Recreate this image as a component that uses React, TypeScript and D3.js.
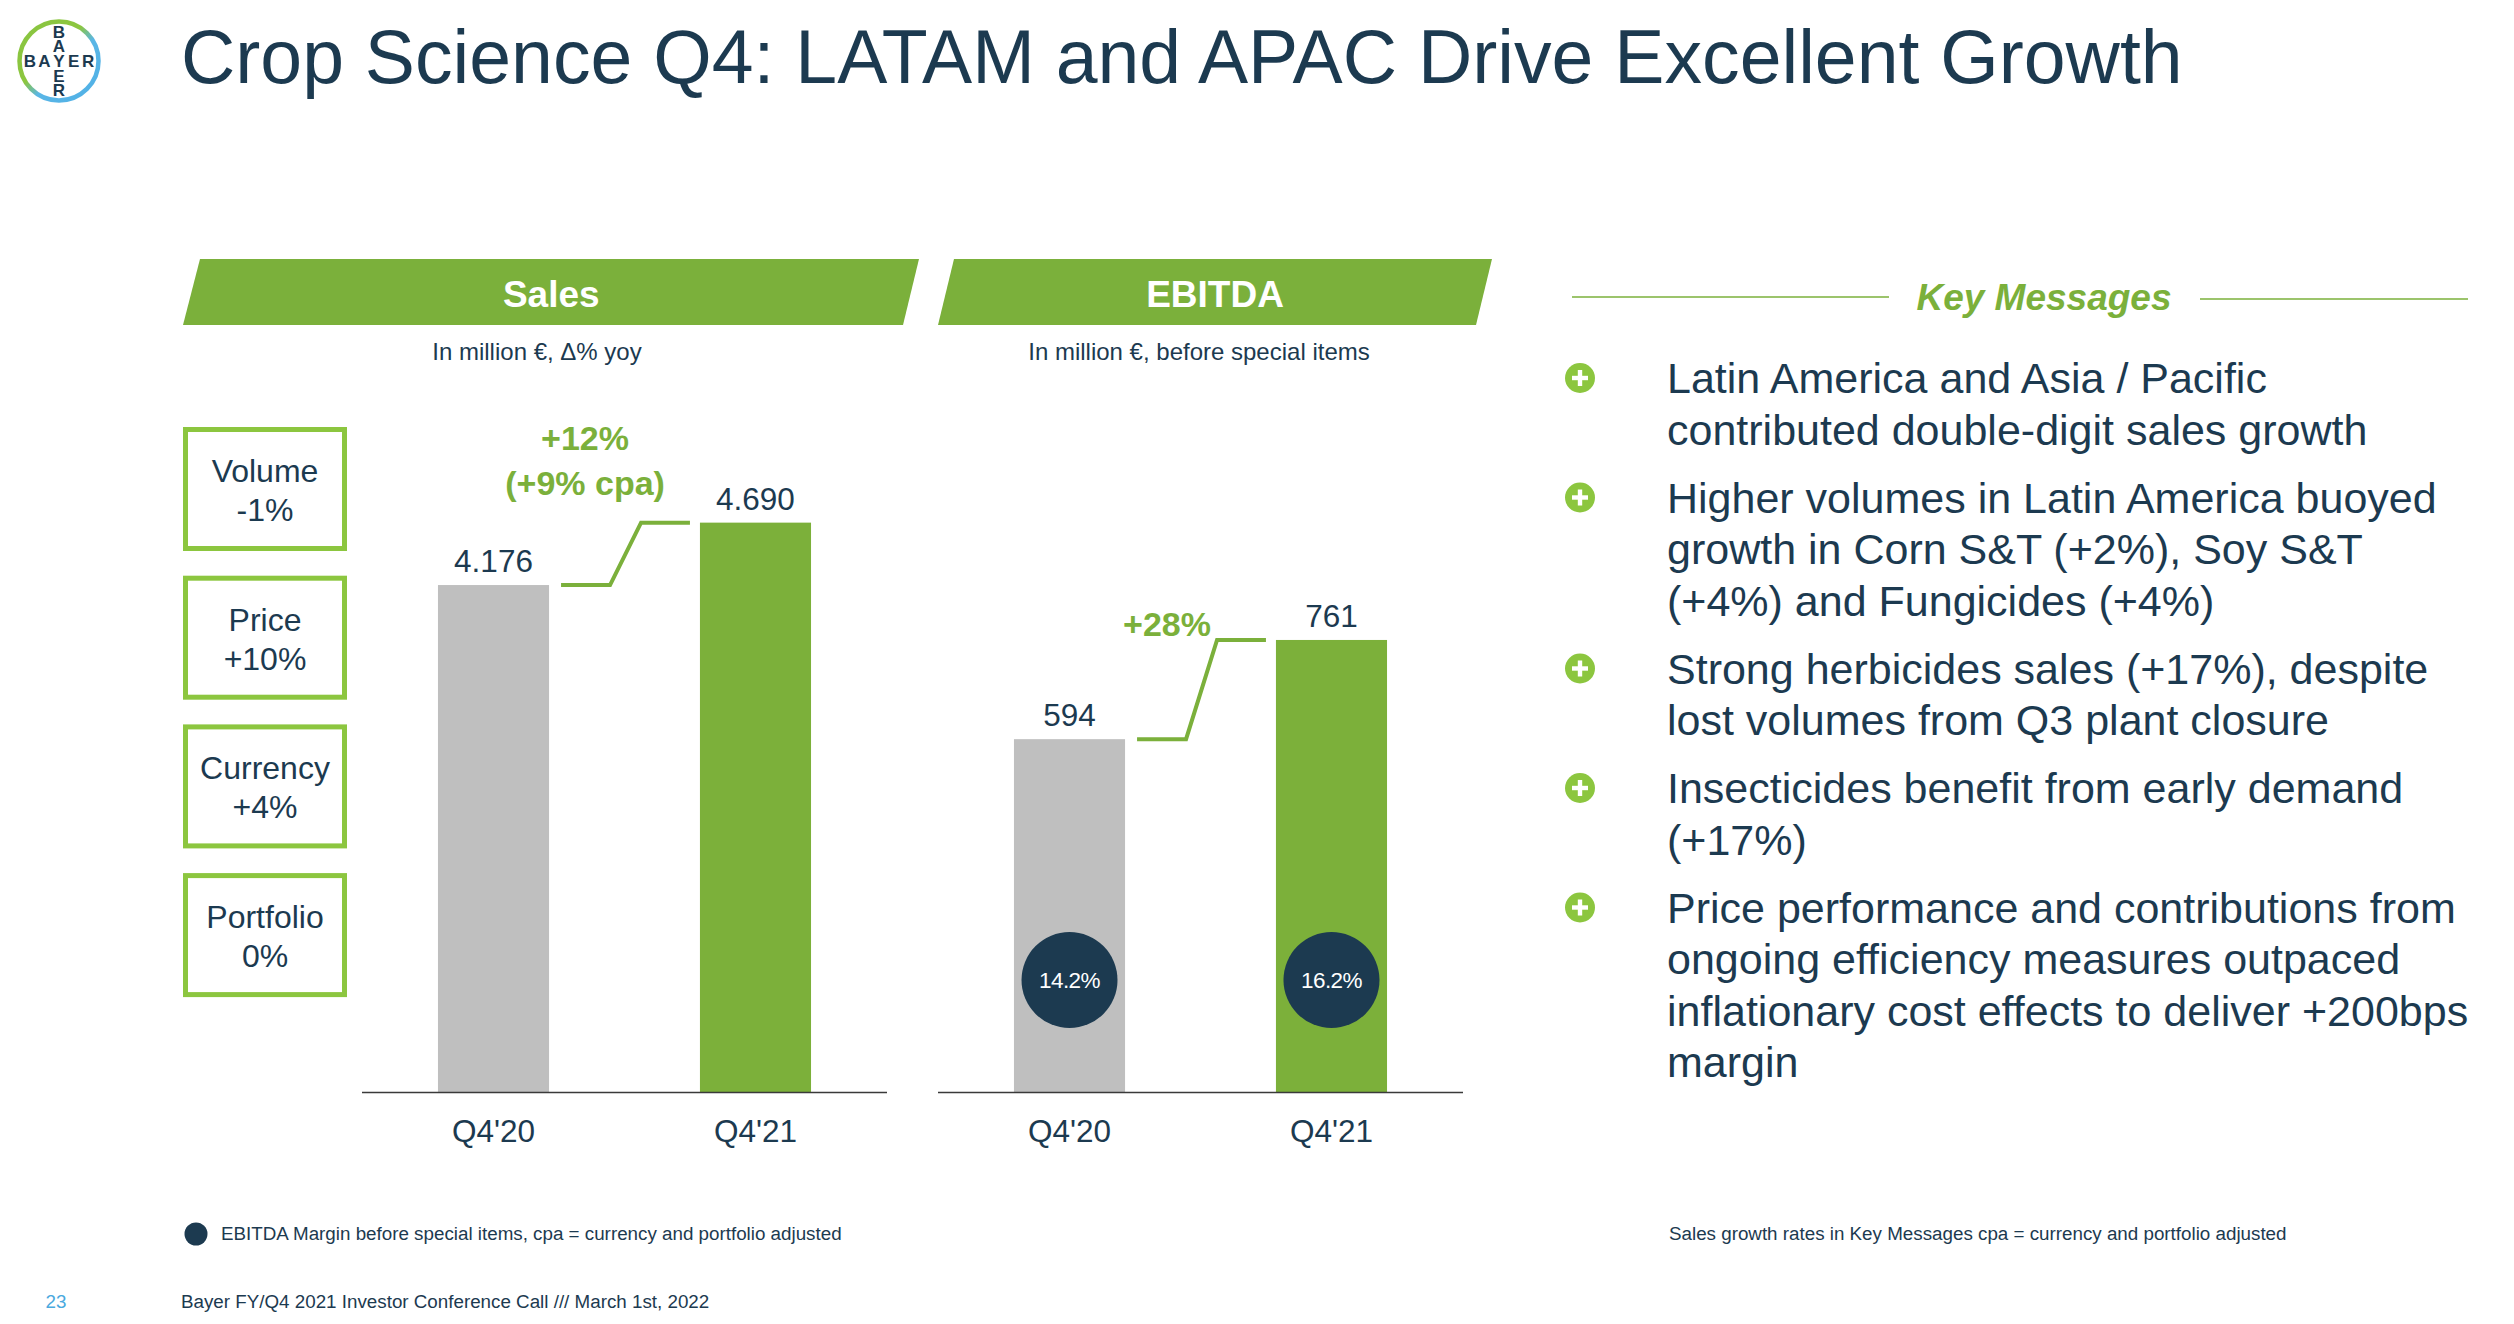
import React from "react";
import * as d3 from "d3";

// ---------- data ----------
const periods = ["Q4'20", "Q4'21"];
const salesValues = [4176, 4690];
const salesLabels = ["4.176", "4.690"];
const ebitdaValues = [594, 761];
const ebitdaLabels = ["594", "761"];
const ebitdaMargins = ["14.2%", "16.2%"];
const salesGrowth = ["+12%", "(+9% cpa)"];
const ebitdaGrowth = ["+28%"];
const driverNames = ["Volume", "Price", "Currency", "Portfolio"];
const driverValues = ["-1%", "+10%", "+4%", "0%"];
const keyMessages = [
  ["Latin America and Asia / Pacific", "contributed double-digit sales growth"],
  ["Higher volumes in Latin America buoyed", "growth in Corn S&T (+2%), Soy S&T", "(+4%) and Fungicides (+4%)"],
  ["Strong herbicides sales (+17%), despite", "lost volumes from Q3 plant closure"],
  ["Insecticides benefit from early demand", "(+17%)"],
  ["Price performance and contributions from", "ongoing efficiency measures outpaced", "inflationary cost effects to deliver +200bps", "margin"],
];

// ---------- style ----------
const NAVY = "#1c3a50";
const GREEN = "#7bb03b";
const LIGHT_GREEN = "#8cc63f";
const GRAY = "#bfbfbf";
const barColors = [GRAY, "#7cb03a"];
const FONT = "'Liberation Sans', Arial, Helvetica, sans-serif";

type PanelProps = {
  values: number[];
  labels: string[];
  xRange: [number, number];
  yMax: number;
  yTop: number;
  growth: string[];
  growthDx: number;
  growthBaselines: number[];
  margins?: string[];
};

const BASE_Y = 1092;

function Panel({ values, labels, xRange, yMax, yTop, growth, growthDx, growthBaselines, margins }: PanelProps) {
  const x = d3.scaleBand<string>().domain(periods).range(xRange).paddingInner(0.576).paddingOuter(0.29);
  const y = d3.scaleLinear().domain([0, yMax]).range([BASE_Y, yTop]);
  const bw = x.bandwidth();
  const x0 = (x(periods[0]) as number) + bw;
  const x1 = x(periods[1]) as number;
  const sx = x0 + 12;
  const pts: [number, number][] = [
    [sx, y(values[0])],
    [sx + 49, y(values[0])],
    [sx + 80, y(values[1])],
    [x1 - 10, y(values[1])],
  ];
  const line = d3.line();
  return (
    <g>
      {periods.map((p, i) => (
        <rect key={p} x={x(p)} y={y(values[i])} width={bw} height={BASE_Y - y(values[i])} fill={barColors[i]} />
      ))}
      <line x1={xRange[0]} x2={xRange[1]} y1={BASE_Y + 0.5} y2={BASE_Y + 0.5} stroke="#3a3a3a" strokeWidth={1.6} />
      {periods.map((p, i) => (
        <text key={"v" + p} x={(x(p) as number) + bw / 2} y={y(values[i]) - 13} textAnchor="middle" fontSize={31.5} fill={NAVY} fontFamily={FONT}>
          {labels[i]}
        </text>
      ))}
      {periods.map((p) => (
        <text key={"c" + p} x={(x(p) as number) + bw / 2} y={1142} textAnchor="middle" fontSize={31.5} fill={NAVY} fontFamily={FONT}>
          {p}
        </text>
      ))}
      <path d={line(pts) || ""} fill="none" stroke={GREEN} strokeWidth={4} strokeLinejoin="miter" />
      {growth.map((g, i) => (
        <text key={g} x={sx + growthDx} y={growthBaselines[i]} textAnchor="middle" fontSize={34} fontWeight="bold" fill={GREEN} fontFamily={FONT}>
          {g}
        </text>
      ))}
      {margins &&
        periods.map((p, i) => (
          <g key={"m" + p}>
            <circle cx={(x(p) as number) + bw / 2} cy={980} r={48} fill={NAVY} />
            <text x={(x(p) as number) + bw / 2} y={988} textAnchor="middle" fontSize={22.5} fill="#ffffff" fontFamily={FONT} letterSpacing={-0.6}>
              {margins[i]}
            </text>
          </g>
        ))}
    </g>
  );
}

function Header({ tl, tr, bl, br, label }: { tl: number; tr: number; bl: number; br: number; label: string }) {
  const top = 259;
  const bot = 325;
  return (
    <g>
      <polygon points={`${tl},${top} ${tr},${top} ${br},${bot} ${bl},${bot}`} fill={GREEN} />
      <text x={(tl + tr + bl + br) / 4} y={307} textAnchor="middle" fontSize={37} fontWeight="bold" fill="#ffffff" fontFamily={FONT}>
        {label}
      </text>
    </g>
  );
}

function Logo() {
  const cx = 59;
  const cy = 61;
  const step = 14.6;
  const letters = ["B", "A", "Y", "E", "R"];
  return (
    <g>
      <defs>
        <linearGradient id="ringGrad" x1="0" y1="0" x2="1" y2="1">
          <stop offset="0" stopColor="#89c541" />
          <stop offset="0.42" stopColor="#8cc63f" />
          <stop offset="0.58" stopColor="#5ab6e6" />
          <stop offset="1" stopColor="#4fb0e6" />
        </linearGradient>
      </defs>
      <circle cx={cx} cy={cy} r={39.5} fill="none" stroke="url(#ringGrad)" strokeWidth={4.5} />
      {letters.map((l, i) => (
        <text key={"h" + i} x={cx + (i - 2) * step} y={cy + 6} textAnchor="middle" fontSize={17} fontWeight="bold" fill={NAVY} fontFamily={FONT}>
          {l}
        </text>
      ))}
      {letters.map((l, i) =>
        i === 2 ? null : (
          <text key={"v" + i} x={cx} y={cy + 6 + (i - 2) * step} textAnchor="middle" fontSize={17} fontWeight="bold" fill={NAVY} fontFamily={FONT}>
            {l}
          </text>
        )
      )}
    </g>
  );
}

function PlusIcon({ cx, cy }: { cx: number; cy: number }) {
  return (
    <g>
      <circle cx={cx} cy={cy} r={15} fill={LIGHT_GREEN} />
      <rect x={cx - 8} y={cy - 2.2} width={16} height={4.4} fill="#ffffff" />
      <rect x={cx - 2.2} y={cy - 8} width={4.4} height={16} fill="#ffffff" />
    </g>
  );
}

export default function App() {
  // key message line positions
  const lineStep = 51.5;
  const bulletGap = 68;
  let yCursor = 393;
  const kmLayout = keyMessages.map((lines, bi) => {
    if (bi > 0) yCursor += bulletGap - lineStep;
    const ys = lines.map(() => {
      const v = yCursor;
      yCursor += lineStep;
      return v;
    });
    return ys;
  });

  return (
    <svg
      width={2514}
      height={1324}
      viewBox="0 0 2514 1324"
      style={{ position: "fixed", left: 0, top: 0, display: "block", background: "#ffffff" }}
      fontFamily={FONT}
    >
      <rect x={0} y={0} width={2514} height={1324} fill="#ffffff" />
      <Logo />
      <text x={181} y={83} fontSize={75.2} fill={NAVY} fontFamily={FONT}>
        Crop Science Q4: LATAM and APAC Drive Excellent Growth
      </text>

      <Header tl={200} tr={919} bl={183} br={903} label="Sales" />
      <Header tl={954} tr={1492} bl={938} br={1476} label="EBITDA" />
      <text x={537} y={360} textAnchor="middle" fontSize={24} fill={NAVY} fontFamily={FONT}>
        In million €, Δ% yoy
      </text>
      <text x={1199} y={360} textAnchor="middle" fontSize={24} fill={NAVY} fontFamily={FONT}>
        In million €, before special items
      </text>

      {driverNames.map((n, i) => {
        const top = 427 + i * 148.7;
        return (
          <g key={n}>
            <rect x={185.5} y={top + 2.5} width={159} height={119} fill="#ffffff" stroke={LIGHT_GREEN} strokeWidth={5} />
            <text x={265} y={top + 55} textAnchor="middle" fontSize={32} fill={NAVY} fontFamily={FONT}>
              {n}
            </text>
            <text x={265} y={top + 94} textAnchor="middle" fontSize={32} fill={NAVY} fontFamily={FONT}>
              {driverValues[i]}
            </text>
          </g>
        );
      })}

      <Panel
        values={salesValues}
        labels={salesLabels}
        xRange={[362, 887]}
        yMax={5000}
        yTop={BASE_Y - 607}
        growth={salesGrowth}
        growthDx={24}
        growthBaselines={[450, 495]}
      />
      <Panel
        values={ebitdaValues}
        labels={ebitdaLabels}
        xRange={[938, 1463]}
        yMax={1000}
        yTop={BASE_Y - 594}
        growth={ebitdaGrowth}
        growthDx={30}
        growthBaselines={[636]}
        margins={ebitdaMargins}
      />

      {/* Key messages */}
      <line x1={1572} x2={1889} y1={297} y2={297} stroke={GREEN} strokeWidth={1.6} />
      <line x1={2200} x2={2468} y1={299} y2={299} stroke={GREEN} strokeWidth={1.6} />
      <text x={2044} y={310} textAnchor="middle" fontSize={37} fontWeight="bold" fontStyle="italic" fill={GREEN} fontFamily={FONT}>
        Key Messages
      </text>
      {keyMessages.map((lines, bi) => (
        <g key={bi}>
          <PlusIcon cx={1580} cy={kmLayout[bi][0] - 15} />
          {lines.map((l, li) => (
            <text key={li} x={1667} y={kmLayout[bi][li]} fontSize={43} fill={NAVY} fontFamily={FONT}>
              {l}
            </text>
          ))}
        </g>
      ))}

      {/* footer */}
      <circle cx={196} cy={1234} r={11.5} fill={NAVY} />
      <text x={221} y={1240} fontSize={18.8} fill={NAVY} fontFamily={FONT}>
        EBITDA Margin before special items, cpa = currency and portfolio adjusted
      </text>
      <text x={1669} y={1240} fontSize={18.8} fill={NAVY} fontFamily={FONT}>
        Sales growth rates in Key Messages cpa = currency and portfolio adjusted
      </text>
      <text x={56} y={1308} textAnchor="middle" fontSize={18.8} fill="#4aa9de" fontFamily={FONT}>
        23
      </text>
      <text x={181} y={1308} fontSize={18.8} fill={NAVY} fontFamily={FONT}>
        Bayer FY/Q4 2021 Investor Conference Call /// March 1st, 2022
      </text>
    </svg>
  );
}
